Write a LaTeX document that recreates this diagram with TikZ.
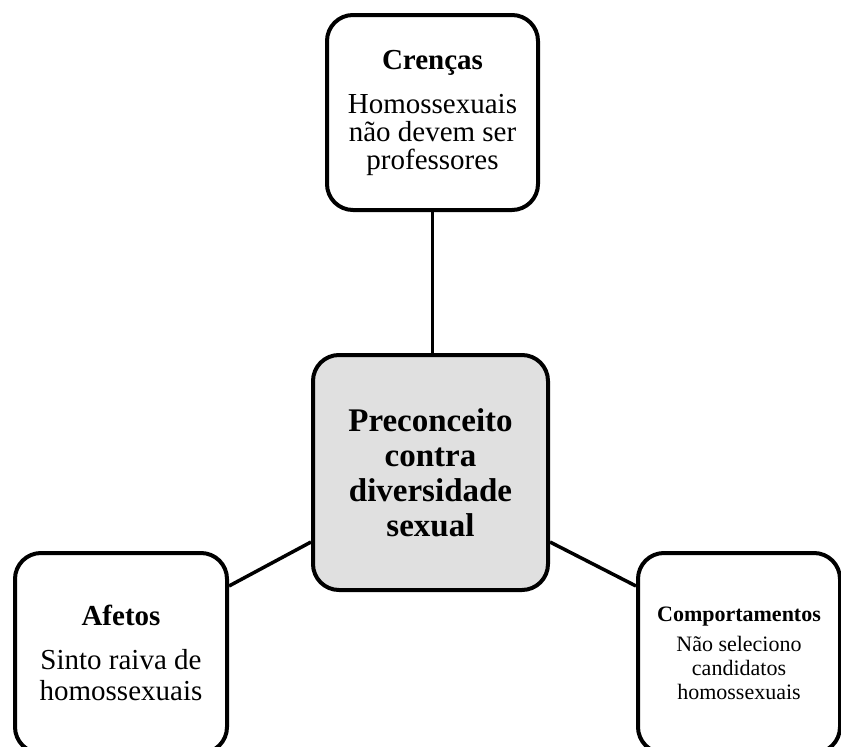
\documentclass[tikz,border=0pt]{standalone}
\usepackage{fontspec}
\setmainfont{Liberation Serif}
\usepackage{tikz}
\usetikzlibrary{positioning}
\definecolor{coregray}{HTML}{E0E0E0}

\begin{document}
\begin{tikzpicture}[x=1pt,y=-1pt,
  box/.style={draw, line width=4pt, rounded corners=26pt, fill=white, align=center, inner sep=0pt},
  link/.style={line width=3.5pt}]
\useasboundingbox (0,0) rectangle (841,747);
% central concept
\node[box, fill=coregray, minimum width=235pt, minimum height=235pt,
  font=\fontsize{33}{35}\selectfont\bfseries] (preconceito) at (430.5,472.5)
  {Preconceito\\contra\\diversidade\\sexual};
% three components
\node[box, minimum width=211pt, minimum height=195pt,
  font=\fontsize{29}{28}\selectfont] (crencas) at (432.5,112.5)
  {\textbf{Crenças}\\[16pt]Homossexuais\\não devem ser\\professores};
\node[box, minimum width=212pt, minimum height=200pt,
  font=\fontsize{29}{31}\selectfont] (afetos) at (121,653)
  {\textbf{Afetos}\\[13pt]Sinto raiva de\\homossexuais};
\node[box, minimum width=202pt, minimum height=200pt,
  font=\fontsize{22}{24}\selectfont] (comportamentos) at (739,653)
  {\textbf{Comportamentos}\\[6pt]Não seleciono\\candidatos\\homossexuais};
% links
\draw[link] (crencas.south) -- (crencas.south |- preconceito.north);
\draw[link] ([yshift=50pt]preconceito.south west) -- ([yshift=-35pt]afetos.north east);
\draw[link] ([yshift=50pt]preconceito.south east) -- ([yshift=-35pt]comportamentos.north west);
\end{tikzpicture}
\end{document}
